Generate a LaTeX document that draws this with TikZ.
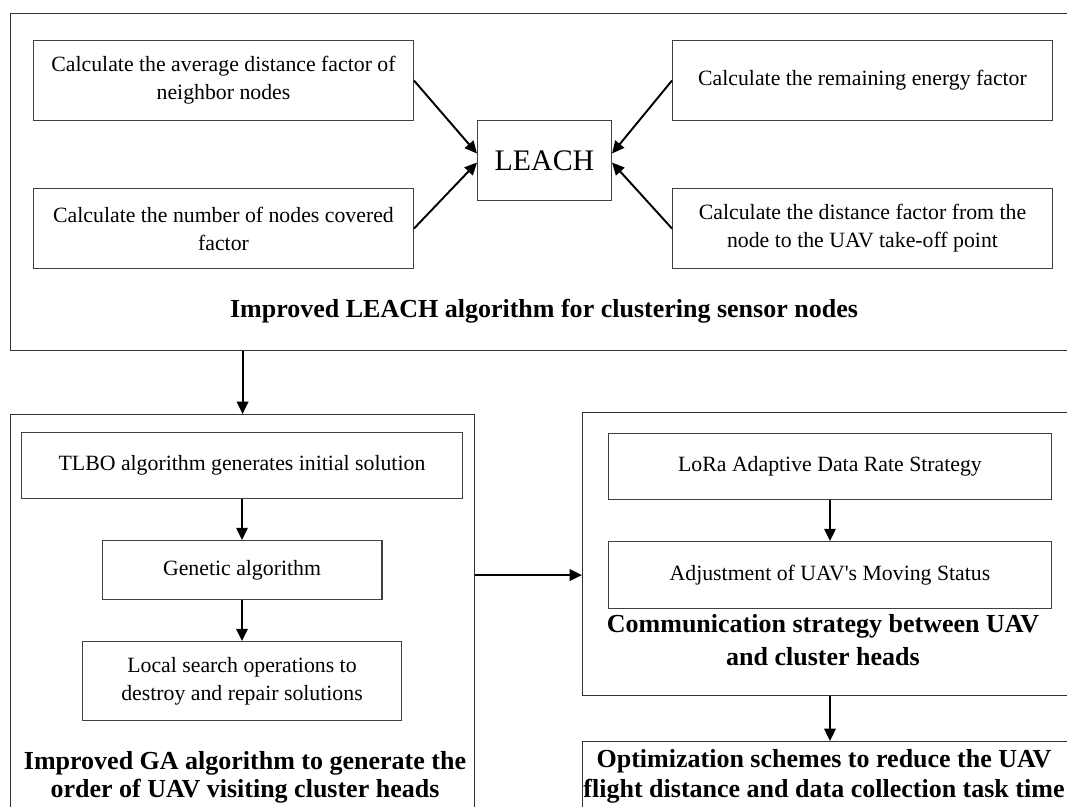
\documentclass[tikz,border=0pt]{standalone}
\usepackage{fontspec}
\setmainfont{Liberation Serif}
\usetikzlibrary{arrows.meta,positioning}

\begin{document}
\begin{tikzpicture}[
  x=0.02cm, y=-0.02cm,
  node distance=0.82cm and 1.2cm,
  box/.style={draw=black!75, line width=0.6pt, align=center, inner sep=2pt,
              font=\fontsize{12.4}{15.9}\selectfont},
  frame/.style={draw=black!80, line width=0.7pt, anchor=north west, inner sep=0pt},
  heading/.style={align=center, anchor=base, font=\fontsize{14.8}{17}\selectfont\bfseries},
  arrow/.style={-{Triangle[length=7pt,width=6.5pt]}, line width=1.1pt}
]
\useasboundingbox (0,0) rectangle (1067,806);
\clip (0,0) rectangle (1067,806);

% clustering stage
\node[frame, minimum width=21.4cm, minimum height=6.74cm] (leachframe) at (10,13) {};
\node[box, minimum width=7.6cm, minimum height=1.6cm, anchor=north west] (avgdist) at (33,40) {Calculate the average distance factor of\\neighbor nodes};
\node[box, minimum width=7.6cm, minimum height=1.6cm, below=1.34cm of avgdist] (covered) {Calculate the number of nodes covered\\factor};
\node[box, minimum width=2.68cm, minimum height=1.6cm, anchor=north west,
      font=\fontsize{17}{20}\selectfont] (leach) at (477,120) {LEACH};
\node[box, minimum width=7.6cm, minimum height=1.6cm, anchor=north west] (energy) at (672,40) {Calculate the remaining energy factor};
\node[box, minimum width=7.6cm, minimum height=1.6cm, below=1.34cm of energy] (takeoff) {Calculate the distance factor from the\\node to the UAV take-off point};
\node[heading] (leachtitle) at (544,317) {Improved LEACH algorithm for clustering sensor nodes};

% route order stage
\node[frame, minimum width=9.28cm, minimum height=8.4cm] (gaframe) at (10,414) {};
\node[box, minimum width=8.84cm, minimum height=1.32cm, anchor=north] (tlbo) at (242,432) {TLBO algorithm generates initial solution};
\node[box, minimum width=5.6cm, minimum height=1.18cm, below=of tlbo] (genetic) {Genetic algorithm};
\node[box, minimum width=6.38cm, minimum height=1.58cm, below=of genetic] (localsearch) {Local search operations to\\destroy and repair solutions};
\node[heading, font=\fontsize{14.8}{15.4}\selectfont\bfseries] (gatitle) at (245,797) {Improved GA algorithm to generate the\\order of UAV visiting cluster heads};

% communication stage
\node[frame, minimum width=9.96cm, minimum height=5.66cm] (commframe) at (582,412) {};
\node[box, minimum width=8.86cm, minimum height=1.32cm, anchor=north west] (lora) at (608,433) {LoRa Adaptive Data Rate Strategy};
\node[box, minimum width=8.86cm, minimum height=1.34cm, below=of lora] (adj) {Adjustment of UAV\textquotesingle s Moving Status};
\node[heading, font=\fontsize{14.8}{18.5}\selectfont\bfseries] (commtitle) at (823,665) {Communication strategy between UAV\\and cluster heads};

\node[frame, minimum width=9.96cm, minimum height=2cm] (optframe) at (582,741) {};
\node[heading] (opttitle) at (824,797) {Optimization schemes to reduce the UAV\\flight distance and data collection task time};

\draw[arrow] (avgdist.east) -- ([yshift=0.14cm]leach.west);
\draw[arrow] (covered.east) -- ([yshift=-0.04cm]leach.west);
\draw[arrow] (energy.west) -- ([yshift=0.14cm]leach.east);
\draw[arrow] (takeoff.west) -- ([yshift=-0.04cm]leach.east);
\draw[arrow] (leachframe.south -| gaframe.north) -- (gaframe.north);
\draw[arrow] (tlbo) -- (genetic);
\draw[arrow] (genetic) -- (localsearch);
\draw[arrow] (lora) -- (adj);
\draw[arrow] (adj.west -| gaframe.east) -- (adj.west -| commframe.west);
\draw[arrow] (commframe.south -| lora.south) -- (optframe.north -| lora.south);
\end{tikzpicture}
\end{document}
